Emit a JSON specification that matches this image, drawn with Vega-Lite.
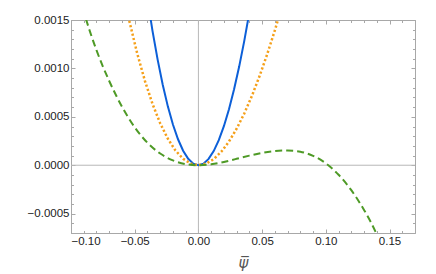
{
  "$schema": "https://vega.github.io/schema/vega-lite/v6.json",
  "width": 344,
  "height": 213,
  "autosize": {"type": "none"},
  "padding": {"left": 71, "top": 20, "right": 21, "bottom": 41},
  "background": "white",
  "config": {
    "view": {"stroke": "#a8a8a8", "strokeWidth": 1},
    "axis": {
      "labelFont": "Liberation Sans",
      "labelFontSize": 11.5,
      "labelColor": "#222222",
      "tickColor": "#a8a8a8",
      "tickWidth": 1,
      "domain": false,
      "grid": false
    }
  },
  "datasets": {
    "zero": [{"v": 0}],
    "blue": [
      {"x": -0.044, "y": 0.002088}, {"x": -0.040, "y": 0.001718}, {"x": -0.036, "y": 0.001386},
      {"x": -0.032, "y": 0.001091}, {"x": -0.028, "y": 0.000832}, {"x": -0.024, "y": 0.000608},
      {"x": -0.020, "y": 0.000421}, {"x": -0.016, "y": 0.000268}, {"x": -0.012, "y": 0.000150},
      {"x": -0.008, "y": 0.0000665}, {"x": -0.004, "y": 0.0000165}, {"x": 0.0, "y": 0.0},
      {"x": 0.004, "y": 0.0000164}, {"x": 0.008, "y": 0.0000653}, {"x": 0.012, "y": 0.000146},
      {"x": 0.016, "y": 0.000259}, {"x": 0.020, "y": 0.000403}, {"x": 0.024, "y": 0.000578},
      {"x": 0.028, "y": 0.000784}, {"x": 0.032, "y": 0.001019}, {"x": 0.036, "y": 0.001284},
      {"x": 0.040, "y": 0.001578}, {"x": 0.044, "y": 0.0019}
    ],
    "orange": [
      {"x": -0.060, "y": 0.001847}, {"x": -0.054, "y": 0.001477}, {"x": -0.048, "y": 0.001153},
      {"x": -0.042, "y": 0.000872}, {"x": -0.036, "y": 0.000632}, {"x": -0.030, "y": 0.000433},
      {"x": -0.024, "y": 0.000274}, {"x": -0.018, "y": 0.000152}, {"x": -0.012, "y": 0.0000666},
      {"x": -0.006, "y": 0.0000164}, {"x": 0.0, "y": 0.0}, {"x": 0.006, "y": 0.000016},
      {"x": 0.012, "y": 0.000063}, {"x": 0.018, "y": 0.00014}, {"x": 0.024, "y": 0.000245},
      {"x": 0.030, "y": 0.000377}, {"x": 0.036, "y": 0.000534}, {"x": 0.042, "y": 0.000716},
      {"x": 0.048, "y": 0.000921}, {"x": 0.054, "y": 0.001147}, {"x": 0.060, "y": 0.001393},
      {"x": 0.066, "y": 0.001658}
    ],
    "green": [
      {"x": -0.10, "y": 0.00206}, {"x": -0.09, "y": 0.001586}, {"x": -0.08, "y": 0.001188},
      {"x": -0.07, "y": 0.00087}, {"x": -0.06, "y": 0.000605}, {"x": -0.05, "y": 0.000392},
      {"x": -0.04, "y": 0.000232}, {"x": -0.03, "y": 0.000121}, {"x": -0.02, "y": 0.0000498},
      {"x": -0.01, "y": 0.0000114}, {"x": 0.0, "y": 0.0}, {"x": 0.01, "y": 0.0000094},
      {"x": 0.02, "y": 0.0000334}, {"x": 0.03, "y": 0.0000661}, {"x": 0.04, "y": 0.000099},
      {"x": 0.05, "y": 0.000127}, {"x": 0.06, "y": 0.000146}, {"x": 0.07, "y": 0.000152},
      {"x": 0.08, "y": 0.00014}, {"x": 0.09, "y": 0.000097}, {"x": 0.10, "y": 0.00002},
      {"x": 0.11, "y": -0.000098}, {"x": 0.12, "y": -0.000258}, {"x": 0.13, "y": -0.000462},
      {"x": 0.14, "y": -0.000715}, {"x": 0.15, "y": -0.00104}
    ]
  },
  "resolve": {"axis": {"x": "independent", "y": "independent"}},
  "layer": [
    {
      "data": {"name": "zero"},
      "mark": {"type": "rule", "color": "#b8b8b8", "strokeWidth": 1},
      "encoding": {
        "x": {
          "field": "v", "type": "quantitative",
          "scale": {"domain": [-0.1, 0.17], "nice": false, "zero": false},
          "axis": {
            "orient": "top", "title": null, "labels": false, "tickSize": -2.5,
            "values": [-0.1,-0.09,-0.08,-0.07,-0.06,-0.05,-0.04,-0.03,-0.02,-0.01,0,0.01,0.02,0.03,0.04,0.05,0.06,0.07,0.08,0.09,0.1,0.11,0.12,0.13,0.14,0.15,0.16,0.17]
          }
        }
      }
    },
    {
      "data": {"name": "zero"},
      "mark": {"type": "rule", "color": "#b8b8b8", "strokeWidth": 1},
      "encoding": {
        "y": {
          "field": "v", "type": "quantitative",
          "scale": {"domain": [-0.0007, 0.0015], "nice": false, "zero": false},
          "axis": {
            "orient": "right", "title": null, "labels": false, "tickSize": -2.5,
            "values": [-0.0007,-0.0006,-0.0005,-0.0004,-0.0003,-0.0002,-0.0001,0,0.0001,0.0002,0.0003,0.0004,0.0005,0.0006,0.0007,0.0008,0.0009,0.001,0.0011,0.0012,0.0013,0.0014,0.0015]
          }
        }
      }
    },
    {
      "data": {"name": "blue"},
      "mark": {"type": "line", "color": "#0c5fd8", "strokeWidth": 2, "clip": true},
      "encoding": {
        "x": {
          "field": "x", "type": "quantitative",
          "scale": {"domain": [-0.1, 0.17], "nice": false, "zero": false},
          "axis": {
            "orient": "bottom", "values": [-0.1, -0.05, 0, 0.05, 0.1, 0.15], "format": ".2f",
            "tickSize": -4, "labelPadding": 6,
            "title": "\u03c8\u0305", "titleFont": "DejaVu Sans", "titleFontStyle": "italic",
            "titleFontWeight": "normal", "titleFontSize": 15, "titleColor": "#555555", "titlePadding": 9
          }
        },
        "y": {
          "field": "y", "type": "quantitative",
          "scale": {"domain": [-0.0007, 0.0015], "nice": false, "zero": false},
          "axis": {
            "orient": "left", "values": [-0.0005, 0, 0.0005, 0.001, 0.0015], "format": ".4f",
            "tickSize": -4, "labelPadding": 6, "title": null
          }
        }
      }
    },
    {
      "data": {"name": "orange"},
      "mark": {"type": "line", "color": "#f5a01a", "strokeWidth": 2.5, "strokeDash": [2.2, 2.2], "clip": true},
      "encoding": {
        "x": {
          "field": "x", "type": "quantitative",
          "scale": {"domain": [-0.1, 0.17], "nice": false, "zero": false},
          "axis": {
            "orient": "bottom", "title": null, "labels": false, "tickSize": -2.5,
            "values": [-0.1,-0.09,-0.08,-0.07,-0.06,-0.05,-0.04,-0.03,-0.02,-0.01,0,0.01,0.02,0.03,0.04,0.05,0.06,0.07,0.08,0.09,0.1,0.11,0.12,0.13,0.14,0.15,0.16,0.17]
          }
        },
        "y": {
          "field": "y", "type": "quantitative",
          "scale": {"domain": [-0.0007, 0.0015], "nice": false, "zero": false},
          "axis": {
            "orient": "left", "title": null, "labels": false, "tickSize": -2.5,
            "values": [-0.0007,-0.0006,-0.0005,-0.0004,-0.0003,-0.0002,-0.0001,0,0.0001,0.0002,0.0003,0.0004,0.0005,0.0006,0.0007,0.0008,0.0009,0.001,0.0011,0.0012,0.0013,0.0014,0.0015]
          }
        }
      }
    },
    {
      "data": {"name": "green"},
      "mark": {"type": "line", "color": "#4e9a26", "strokeWidth": 2, "strokeDash": [7, 4], "interpolate": "natural", "clip": true},
      "encoding": {
        "x": {
          "field": "x", "type": "quantitative",
          "scale": {"domain": [-0.1, 0.17], "nice": false, "zero": false},
          "axis": {"orient": "top", "title": null, "labels": false, "tickSize": -4, "values": [-0.1, -0.05, 0, 0.05, 0.1, 0.15]}
        },
        "y": {
          "field": "y", "type": "quantitative",
          "scale": {"domain": [-0.0007, 0.0015], "nice": false, "zero": false},
          "axis": {"orient": "right", "title": null, "labels": false, "tickSize": -4, "values": [-0.0005, 0, 0.0005, 0.001, 0.0015]}
        }
      }
    }
  ]
}
